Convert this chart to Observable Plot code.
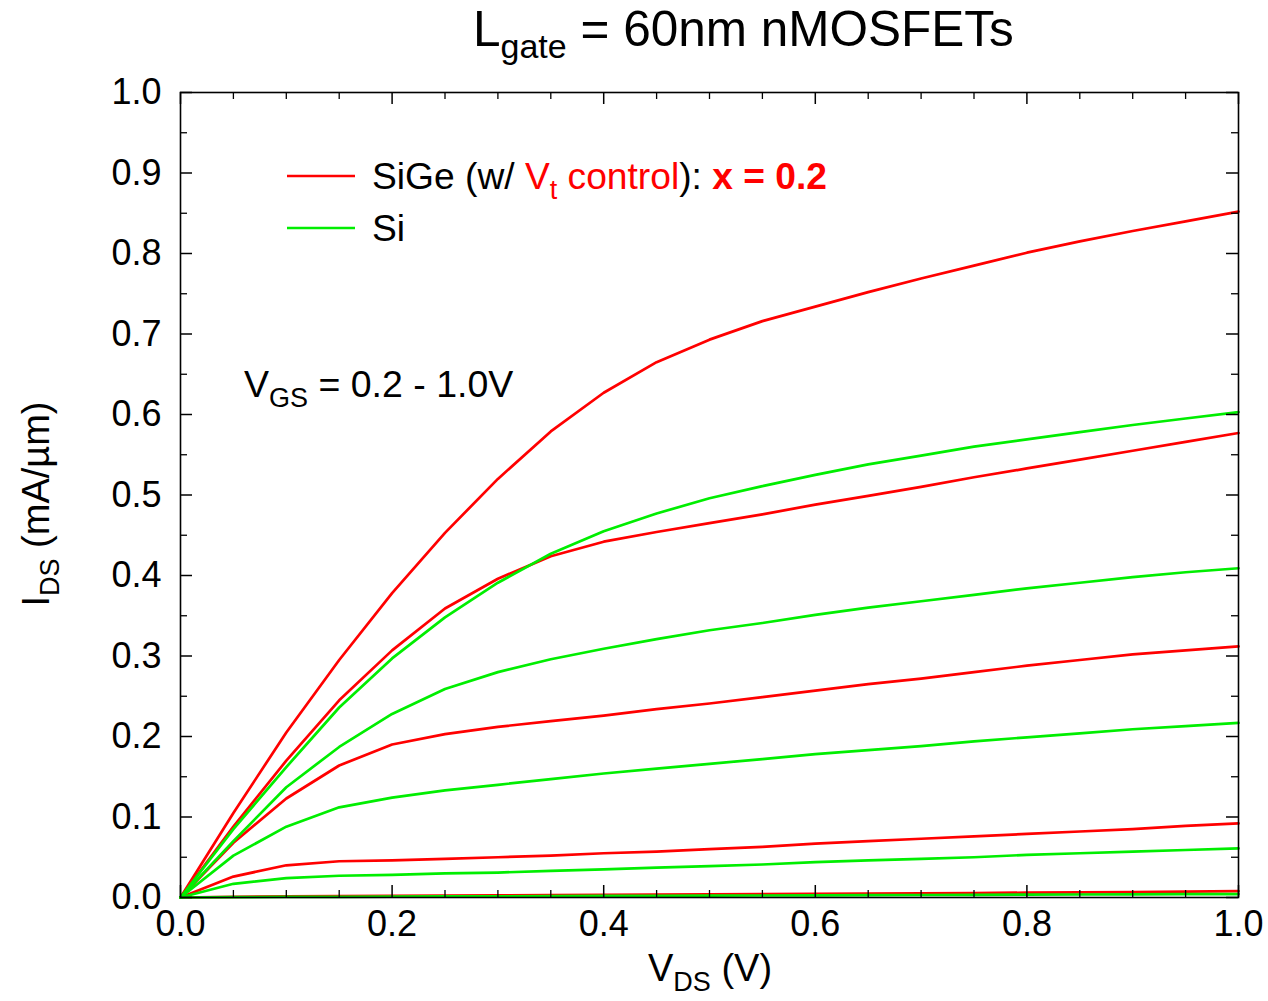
<!DOCTYPE html>
<html>
<head>
<meta charset="utf-8">
<script src="https://cdn.jsdelivr.net/npm/d3@7"></script>
<script src="https://cdn.jsdelivr.net/npm/@observablehq/plot@0.6"></script>
<style>
  html, body { margin: 0; padding: 0; background: #fff; }
  #chart { width: 1268px; height: 1001px; }
</style>
</head>
<body>
<div id="chart"></div>
<script>
// V_DS sample points (V)
const vds = [0, 0.05, 0.1, 0.15, 0.2, 0.25, 0.3, 0.35, 0.4, 0.45, 0.5, 0.55, 0.6, 0.65, 0.7, 0.75, 0.8, 0.85, 0.9, 0.95, 1.0];

// SiGe (w/ Vt control) I_DS (mA/um), V_GS from high to low
const sige1 = [0, 0.105, 0.205, 0.295, 0.378, 0.453, 0.520, 0.579, 0.627, 0.665, 0.693, 0.716, 0.734, 0.752, 0.769, 0.785, 0.801, 0.815, 0.828, 0.840, 0.852];
const sige2 = [0, 0.088, 0.170, 0.245, 0.307, 0.359, 0.396, 0.424, 0.442, 0.454, 0.465, 0.476, 0.488, 0.499, 0.510, 0.522, 0.533, 0.544, 0.555, 0.566, 0.577];
const sige3 = [0, 0.068, 0.123, 0.164, 0.190, 0.203, 0.212, 0.219, 0.226, 0.234, 0.241, 0.249, 0.257, 0.265, 0.272, 0.280, 0.288, 0.295, 0.302, 0.307, 0.312];
const sige4 = [0, 0.026, 0.040, 0.045, 0.046, 0.048, 0.050, 0.052, 0.055, 0.057, 0.060, 0.063, 0.067, 0.070, 0.073, 0.076, 0.079, 0.082, 0.085, 0.089, 0.092];
const sige5 = [0, 0.0008, 0.0013, 0.0017, 0.002, 0.0023, 0.0026, 0.0029, 0.0032, 0.0035, 0.0038, 0.0041, 0.0044, 0.0048, 0.0052, 0.0056, 0.006, 0.0064, 0.0068, 0.0073, 0.0078];

// Si I_DS (mA/um), V_GS from high to low
const si1 = [0, 0.085, 0.162, 0.236, 0.297, 0.348, 0.391, 0.427, 0.455, 0.477, 0.496, 0.511, 0.525, 0.538, 0.549, 0.560, 0.569, 0.578, 0.587, 0.595, 0.603];
const si2 = [0, 0.070, 0.137, 0.187, 0.228, 0.259, 0.280, 0.296, 0.309, 0.321, 0.332, 0.341, 0.351, 0.360, 0.368, 0.376, 0.384, 0.391, 0.398, 0.404, 0.409];
const si3 = [0, 0.052, 0.088, 0.112, 0.124, 0.133, 0.140, 0.147, 0.154, 0.160, 0.166, 0.172, 0.178, 0.183, 0.188, 0.194, 0.199, 0.204, 0.209, 0.213, 0.217];
const si4 = [0, 0.017, 0.024, 0.027, 0.028, 0.030, 0.031, 0.033, 0.035, 0.037, 0.039, 0.041, 0.044, 0.046, 0.048, 0.050, 0.053, 0.055, 0.057, 0.059, 0.061];
const si5 = [0, 0.0004, 0.0007, 0.0009, 0.0011, 0.0013, 0.0015, 0.0017, 0.0019, 0.0021, 0.0023, 0.0025, 0.0027, 0.0029, 0.0031, 0.0033, 0.0035, 0.0037, 0.0039, 0.0041, 0.0043];

// tick values
const xMajor = [0, 0.2, 0.4, 0.6, 0.8, 1.0];
const xMinor = d3.range(0, 21).map(i => i / 20).filter(v => !xMajor.some(m => Math.abs(m - v) < 1e-9));
const yMajor = [0, 0.1, 0.2, 0.3, 0.4, 0.5, 0.6, 0.7, 0.8, 0.9, 1.0];
const yMinor = d3.range(0, 20).map(i => i / 20 + 0.05).filter(v => !yMajor.some(m => Math.abs(m - v) < 1e-9));

const RED = "#ff0000";
const GREEN = "#00ee00";

function toRows(name, arr) {
  return arr.map((v, i) => ({curve: name, vds: vds[i], ids: v}));
}
const sigeRows = [
  ...toRows("sige1", sige1), ...toRows("sige2", sige2), ...toRows("sige3", sige3),
  ...toRows("sige4", sige4), ...toRows("sige5", sige5)
];
const siRows = [
  ...toRows("si1", si1), ...toRows("si2", si2), ...toRows("si3", si3),
  ...toRows("si4", si4), ...toRows("si5", si5)
];

const W = 1268, H = 1001;
const mL = 180, mR = 30, mT = 92, mB = 104;
const pw = W - mL - mR, ph = H - mT - mB;
const MAJ = 12, MIN = 7;
const FS = 36;

const chart = Plot.plot({
  width: W,
  height: H,
  marginLeft: mL,
  marginRight: mR,
  marginTop: mT,
  marginBottom: mB,
  x: {domain: [0, 1]},
  y: {domain: [0, 1]},
  style: {fontFamily: "'Liberation Sans', Arial, sans-serif", background: "#fff", color: "#000"},
  marks: [
    Plot.line(sigeRows, {x: "vds", y: "ids", z: "curve", stroke: RED, strokeWidth: 2.7}),
    Plot.line(siRows, {x: "vds", y: "ids", z: "curve", stroke: GREEN, strokeWidth: 2.7}),
    // inward ticks, bottom & top
    Plot.tickX(xMajor, {x: d => d, insetTop: ph - MAJ, stroke: "#000", strokeWidth: 1.5}),
    Plot.tickX(xMinor, {x: d => d, insetTop: ph - MIN, stroke: "#000", strokeWidth: 1.3}),
    Plot.tickX(xMajor, {x: d => d, insetBottom: ph - MAJ, stroke: "#000", strokeWidth: 1.5}),
    Plot.tickX(xMinor, {x: d => d, insetBottom: ph - MIN, stroke: "#000", strokeWidth: 1.3}),
    // inward ticks, left & right
    Plot.tickY(yMajor, {y: d => d, insetRight: pw - MAJ, stroke: "#000", strokeWidth: 1.5}),
    Plot.tickY(yMinor, {y: d => d, insetRight: pw - MIN, stroke: "#000", strokeWidth: 1.3}),
    Plot.tickY(yMajor, {y: d => d, insetLeft: pw - MAJ, stroke: "#000", strokeWidth: 1.5}),
    Plot.tickY(yMinor, {y: d => d, insetLeft: pw - MIN, stroke: "#000", strokeWidth: 1.3}),
    Plot.frame({stroke: "#000", strokeWidth: 1.6}),
    Plot.axisX({ticks: xMajor, tickSize: 0, tickPadding: 13, tickFormat: d3.format(".1f"), fontSize: FS, label: null}),
    Plot.axisY({ticks: yMajor, tickSize: 0, tickPadding: 19, tickFormat: d3.format(".1f"), fontSize: FS, label: null})
  ]
});

document.getElementById("chart").appendChild(chart);

const svg = d3.select(chart);
const ff = "'Liberation Sans', Arial, sans-serif";

function subText(g, parts) {
  let shifted = 0;
  for (const p of parts) {
    const ts = g.append("tspan").text(p.t);
    if (p.color) ts.attr("fill", p.color);
    if (p.bold) ts.attr("font-weight", "bold");
    if (p.size) ts.attr("font-size", p.size);
    if (p.sub) {
      ts.attr("dy", p.sub);
      shifted += p.sub;
    } else if (shifted !== 0) {
      ts.attr("dy", -shifted);
      shifted = 0;
    }
  }
}

// Title
const title = svg.append("text")
  .attr("x", 473).attr("y", 46)
  .attr("text-anchor", "start")
  .attr("font-family", ff).attr("font-size", 49.5).attr("fill", "#000");
subText(title, [
  {t: "L"},
  {t: "gate", sub: 12, size: 34},
  {t: " = 60nm nMOSFETs"}
]);

// X axis label
const xl = svg.append("text")
  .attr("x", 710).attr("y", 981)
  .attr("text-anchor", "middle")
  .attr("font-family", ff).attr("font-size", 38).attr("fill", "#000");
subText(xl, [
  {t: "V"},
  {t: "DS", sub: 10, size: 27},
  {t: " (V)"}
]);

// Y axis label
const yl = svg.append("text")
  .attr("transform", "translate(49,504) rotate(-90)")
  .attr("text-anchor", "middle")
  .attr("font-family", ff).attr("font-size", 38).attr("fill", "#000");
subText(yl, [
  {t: "I"},
  {t: "DS", sub: 10, size: 27},
  {t: " (mA/\u00b5m)"}
]);

// V_GS annotation
const ann = svg.append("text")
  .attr("x", 244).attr("y", 397)
  .attr("text-anchor", "start")
  .attr("font-family", ff).attr("font-size", 37.5).attr("fill", "#000");
subText(ann, [
  {t: "V"},
  {t: "GS", sub: 10, size: 27},
  {t: " = 0.2 - 1.0V"}
]);

// Legend
svg.append("line").attr("x1", 287).attr("x2", 355).attr("y1", 176).attr("y2", 176)
  .attr("stroke", RED).attr("stroke-width", 2.7);
svg.append("line").attr("x1", 287).attr("x2", 355).attr("y1", 228).attr("y2", 228)
  .attr("stroke", GREEN).attr("stroke-width", 2.7);

const leg1 = svg.append("text")
  .attr("x", 372).attr("y", 189)
  .attr("text-anchor", "start")
  .attr("font-family", ff).attr("font-size", 37.2).attr("fill", "#000");
subText(leg1, [
  {t: "SiGe (w/ "},
  {t: "V", color: RED},
  {t: "t", sub: 10, size: 27, color: RED},
  {t: " control", color: RED},
  {t: "): "},
  {t: "x = 0.2", color: RED, bold: true}
]);

const leg2 = svg.append("text")
  .attr("x", 372).attr("y", 241)
  .attr("text-anchor", "start")
  .attr("font-family", ff).attr("font-size", 37.2).attr("fill", "#000");
subText(leg2, [{t: "Si"}]);
</script>
</body>
</html>
